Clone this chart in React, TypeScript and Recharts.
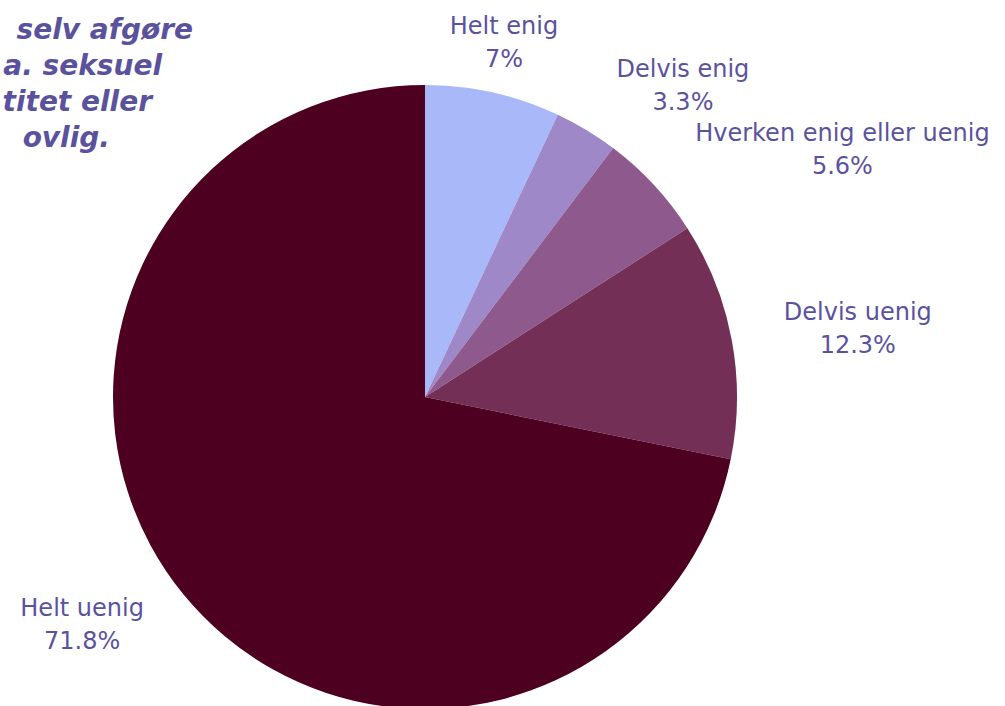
import React from "react";
import { PieChart, Pie, Cell } from "recharts";

const categories = ["Helt enig", "Delvis enig", "Hverken enig eller uenig", "Delvis uenig", "Helt uenig"];
const values = [7, 3.3, 5.6, 12.3, 71.8];
const colors = ["#a8b8f8", "#9e88c8", "#8e5a8e", "#742f56", "#4e0020"];
const titleLines = ["selv afgøre", "a. seksuel", "titet eller", "ovlig."];

const data = categories.map((name, i) => ({ name, value: values[i] }));
const LABEL_COLOR = "#5b529e";
const FONT = "'DejaVu Sans', sans-serif";
const CHAR_W = 12.5;

const RADIAN = Math.PI / 180;

const LabelWithValue = (props: any) => {
  const { cx, cy, midAngle, outerRadius, name, value } = props;
  const r = outerRadius + 50;
  const cos = Math.cos(-midAngle * RADIAN);
  const sin = Math.sin(-midAngle * RADIAN);
  let x = cx + r * cos;
  const y = cy + r * sin;
  const approxW = name.length * CHAR_W;
  let center = x;
  if (cos > 0.3) {
    x += 2;
    center = x + approxW / 2;
  } else if (cos < -0.3) {
    center = x - approxW / 2;
  }
  return (
    <g>
      <text
        x={center}
        y={y - 10}
        textAnchor="middle"
        fill={LABEL_COLOR}
        fontFamily={FONT}
        fontSize={24}
      >
        {name}
      </text>
      <text
        x={center}
        y={y + 23}
        textAnchor="middle"
        fill={LABEL_COLOR}
        fontFamily={FONT}
        fontSize={24}
      >
        {value}%
      </text>
    </g>
  );
};

export default function App() {
  return (
    <div style={{ position: "absolute", left: 0, top: 0, width: 1005, height: 706, background: "#fff", overflow: "hidden" }}>
      <PieChart width={1005} height={706}>
        <Pie
          data={data}
          dataKey="value"
          nameKey="name"
          cx={420}
          cy={392}
          outerRadius={312}
          startAngle={90}
          endAngle={-270}
          stroke="none"
          label={LabelWithValue}
          labelLine={false}
          isAnimationActive={false}
        >
          {data.map((d, i) => (
            <Cell key={d.name} fill={colors[i]} />
          ))}
        </Pie>
        {titleLines.map((t, i) => (
          <text
            key={t}
            x={[193, 162, 152, 110][i]}
            y={39 + i * 36}
            textAnchor="end"
            fill={LABEL_COLOR}
            fontFamily={FONT}
            fontSize={28}
            fontWeight={700}
            fontStyle="italic"
          >
            {t}
          </text>
        ))}
      </PieChart>
    </div>
  );
}
